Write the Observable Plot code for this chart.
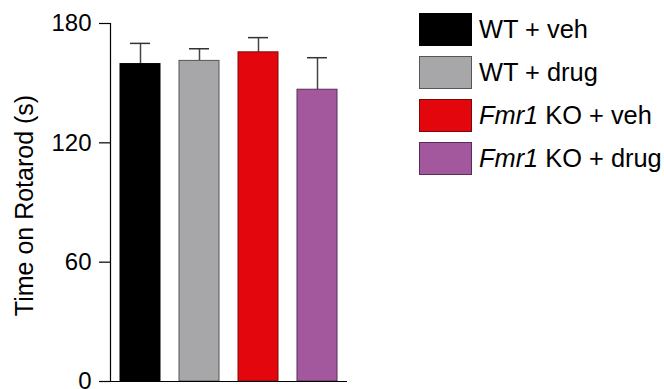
<!DOCTYPE html>
<html>
<head>
<meta charset="utf-8">
<script src="https://cdn.jsdelivr.net/npm/d3@7"></script>
<script src="https://cdn.jsdelivr.net/npm/@observablehq/plot@0.6"></script>
<style>
  body { margin: 0; background: #fff; }
  #wrap { position: relative; width: 664px; height: 389px; overflow: hidden; font-family: "Liberation Sans", Arial, sans-serif; }
  #chart { position: absolute; left: 0; top: 0; }
  .item { position: absolute; left: 419px; height: 33px; display: flex; align-items: center; }
  .sw { width: 51px; height: 31px; border: 1px solid #222; }
  .lab { margin-left: 7px; font-size: 25.4px; color: #000; white-space: nowrap; line-height: 33px; }
</style>
</head>
<body>
<div id="wrap">
  <div id="chart"></div>
  <div id="legend"></div>
</div>
<script>
const groups = ["WT + veh", "WT + drug", "Fmr1 KO + veh", "Fmr1 KO + drug"];
const legendHtml = ["WT + veh", "WT + drug", "<i>Fmr1</i> KO + veh", "<i>Fmr1</i> KO + drug"];
const means = [159.6, 161.2, 165.5, 146.7];
const sems = [10.4, 6.1, 7.4, 16.1];
const fills = ["#000000", "#a7a6a8", "#e3060c", "#a3589d"];
const strokes = ["#000000", "#555555", "#7a0a0a", "#5a2a58"];
const yTicks = [0, 60, 120, 180];
const yLabel = "Time on Rotarod (s)";

const data = groups.map((g, i) => ({group: g, mean: means[i], top: means[i] + sems[i], fill: fills[i], stroke: strokes[i]}));

const chart = Plot.plot({
  width: 360,
  height: 389,
  marginLeft: 110,
  marginRight: 13,
  marginTop: 23,
  marginBottom: 8,
  style: {fontFamily: "'Liberation Sans', Arial, sans-serif", background: "transparent", overflow: "visible"},
  x: {type: "band", domain: groups, paddingInner: 0.33, paddingOuter: 0.15, axis: null},
  y: {domain: [0, 180]},
  color: {type: "identity"},
  marks: [
    Plot.ruleX(data, {x: "group", y1: "mean", y2: "top", stroke: "#444", strokeWidth: 1.5}),
    Plot.tickY(data, {x: "group", y: "top", stroke: "#333", strokeWidth: 1.5, insetLeft: 10, insetRight: 10}),
    Plot.barY(data, {x: "group", y: "mean", fill: "fill", stroke: "stroke", strokeWidth: 1}),
    Plot.ruleY([0], {stroke: "#000", strokeWidth: 1.2}),
    Plot.frame({anchor: "left", stroke: "#000", strokeWidth: 1.2}),
    Plot.axisY({ticks: yTicks, tickSize: 11, tickPadding: 8, fontSize: 24, label: null, stroke: "#000", strokeWidth: 1.2, color: "#000"}),
    Plot.text([yLabel], {text: d => d, frameAnchor: "left", textAnchor: "middle", rotate: -90, dx: -86, dy: 3, fontSize: 25, fill: "#000"})
  ]
});
document.getElementById("chart").appendChild(chart);

const legend = document.getElementById("legend");
groups.forEach((g, i) => {
  const item = document.createElement("div");
  item.className = "item";
  item.style.top = (13 + i * 43.1) + "px";
  item.innerHTML = `<div class="sw" style="background:${fills[i]};border-color:${i === 0 ? '#000' : strokes[i]}"></div><span class="lab">${legendHtml[i]}</span>`;
  legend.appendChild(item);
});
</script>
</body>
</html>
